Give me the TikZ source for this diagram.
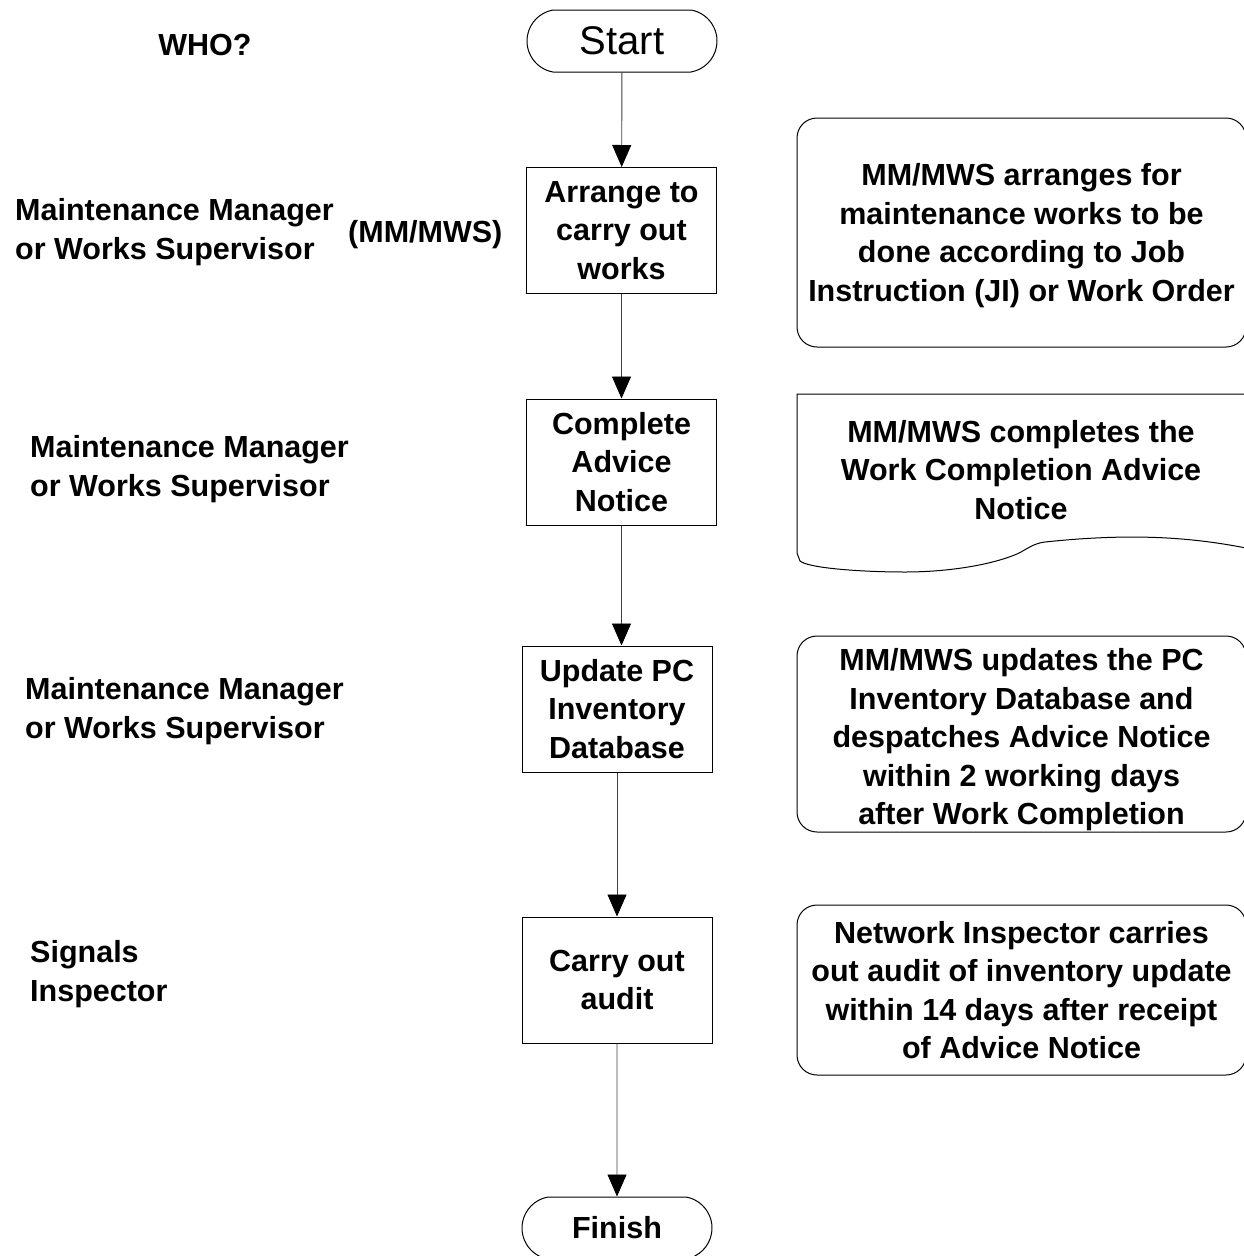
\documentclass[tikz,border=0pt]{standalone}
\usepackage{fontspec}
\setmainfont{Liberation Sans}
\usetikzlibrary{arrows.meta,shapes.misc}
\tikzset{proc/.style={draw, line width=1pt, minimum width=190pt, minimum height=126pt, inner sep=0pt, align=center, font=\bfseries\fontsize{30.5}{38.5}\selectfont}}
\tikzset{term/.style={draw, line width=1pt, rounded rectangle, rounded rectangle arc length=160, minimum width=190pt, minimum height=62pt, inner sep=0pt}}
\tikzset{note/.style={draw, line width=1pt, rounded corners=20pt, minimum width=449pt, inner sep=0pt, align=center, font=\bfseries\fontsize{30.5}{38.5}\selectfont}}
\tikzset{who/.style={anchor=west, inner sep=0pt, align=left, font=\bfseries\fontsize{30.5}{38.5}\selectfont}}
\tikzset{flow/.style={color=black!75, line width=.9pt, -{Triangle[length=22pt,width=19pt,color=black]}}}

\begin{document}
\begin{tikzpicture}[x=1pt, y=-1pt]
  \useasboundingbox (0,0) rectangle (1243,1256);

  % flow column
  \node[term, font=\fontsize{40}{44}\selectfont] (start) at (622,41) {Start};
  \node[proc] (b1) at (621.5,230.5) {Arrange to\\carry out\\works};
  \node[proc] (b2) at (621.5,462) {Complete\\Advice\\Notice};
  \node[proc] (b3) at (617,709) {Update PC\\Inventory\\Database};
  \node[proc] (b4) at (617,980) {Carry out\\audit};
  \node[term, font=\bfseries\fontsize{30.5}{36}\selectfont] (finish) at (617,1228) {Finish};

  \draw[flow] (start) -- (b1);
  \draw[flow] (b1) -- (b2);
  \draw[flow] (b2.south) -- (b2.south |- b3.north);
  \draw[flow] (b3) -- (b4);
  \draw[flow] (b4) -- (finish);

  % who column
  \node[anchor=center, inner sep=0pt, font=\bfseries\fontsize{30.5}{38.5}\selectfont] (whohead) at (205,45) {WHO?};
  \node[who] (who1) at (15,232) {Maintenance Manager\\or Works Supervisor};
  \node[who] (mmws) at (348,235) {(MM/MWS)};
  \node[who] (who2) at (30,469) {Maintenance Manager\\or Works Supervisor};
  \node[who] (who3) at (25,711) {Maintenance Manager\\or Works Supervisor};
  \node[who] (who4) at (30,974) {Signals\\Inspector};

  % notes
  \node[note, minimum height=229pt] (n1) at (1021.5,232.5) {};
  \node[note, draw=none] (n1t) at (1021.5,235.5) {MM/MWS arranges for\\maintenance works to be\\done according to Job\\Instruction (JI) or Work Order};
  \node[note, draw=none] (n2) at (1021,470) {MM/MWS completes the\\Work Completion Advice\\Notice};
  \draw[line width=1pt] (797,394) -- (1246,394) -- (1246,548)
    .. controls (1190,537) and (1130,533) .. (1045,542)
    .. controls (1030,544) and (1026,551) .. (1012,556)
    .. controls (985,566) and (945,572) .. (905,572)
    .. controls (860,572) and (808,568) .. (800,561)
    -- (797,553) -- cycle;
  \node[note, minimum height=196pt] (n3) at (1021.5,734) {};
  \node[note, draw=none] (n3t) at (1021.5,740) {MM/MWS updates the PC\\Inventory Database and\\despatches Advice Notice\\within 2 working days\\after Work Completion};
  \node[note, minimum height=170pt] (n4) at (1021.5,990) {Network Inspector carries\\out audit of inventory update\\within 14 days after receipt\\of Advice Notice};
\end{tikzpicture}
\end{document}
